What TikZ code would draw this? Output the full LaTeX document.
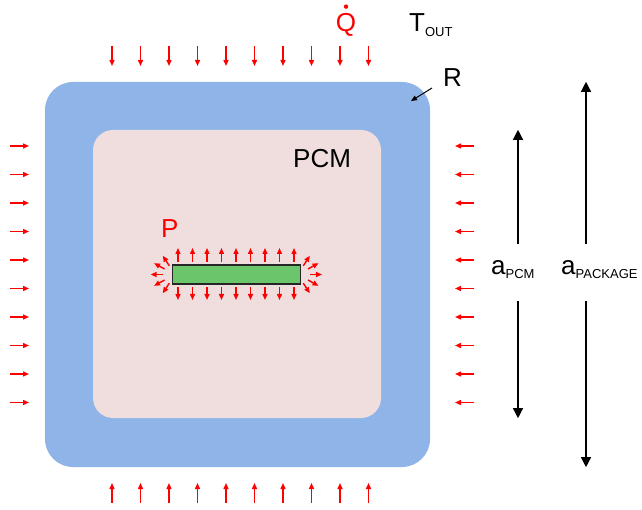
\documentclass[tikz,border=0pt]{standalone}
\usepackage{fontspec}
\setmainfont{Liberation Sans}
\usetikzlibrary{arrows.meta,positioning,calc}

\definecolor{pkgblue}{RGB}{143,180,232}
\definecolor{pcmpink}{RGB}{240,222,222}
\definecolor{heatgreen}{RGB}{107,198,107}

\newcommand{\bigfont}{\fontsize{26}{30}\selectfont}
\newcommand{\subfont}{\fontsize{13}{15}\selectfont}

\begin{document}
\begin{tikzpicture}[
    x=1pt, y=-1pt,
    >={Triangle[length=10pt,width=10pt]},
    package/.style={
        rectangle, fill=pkgblue, rounded corners=28pt,
        minimum width=385pt, minimum height=385pt
    },
    pcmbox/.style={
        rectangle, fill=pcmpink, rounded corners=20pt,
        minimum width=288pt, minimum height=288pt
    },
    heater/.style={
        rectangle, draw=black!85, line width=1.3pt, fill=heatgreen,
        minimum width=128pt, minimum height=19pt, inner sep=0pt
    },
    lbl/.style={inner sep=0pt, font=\bigfont},
    flux/.style={-{Triangle[length=6pt,width=5pt]}, red, line width=1.4pt},
    dim/.style={->, black, line width=1.3pt}
]
    \useasboundingbox (0,0) rectangle (642,510);

    \node[package] (pkg) at (237.5,274.5) {};
    \node[pcmbox] (pcm) at (237,274) {};
    \node[heater] (heat) at (236.3,274.5) {};

    % labels
    \node[lbl, text=red, anchor=base] (qdot) at (346,32) {Q};
    \fill[red] ([yshift=7pt]qdot.north) circle (2.2pt);
    \node[lbl, anchor=base west] (tout) at (409,32) {T\raisebox{-5pt}{\subfont OUT}};
    \node[lbl, anchor=base west] (res) at (443,87) {R};
    \node[lbl, anchor=base west] (pcmlbl) at (293,168) {PCM};
    \node[lbl, text=red, anchor=base west] (pwr) at (161,238) {P};
    \node[lbl, anchor=base west] (apcm) at (491,275) {a\raisebox{-4pt}{\subfont PCM}};
    \node[lbl, anchor=base west] (apkg) at (561,275) {a\raisebox{-4pt}{\subfont PACKAGE}};

    % outside heat flux
    \foreach \i in {0,...,9} {
        \draw[flux] ({112+28.5*\i},46) -- ++(0,20);
        \draw[flux] ({112+28.5*\i},503) -- ++(0,-20);
        \draw[flux] (10,{146+28.5*\i}) -- ++(19,0);
        \draw[flux] (474,{146+28.5*\i}) -- ++(-19,0);
    }

    % heater power
    \foreach \i in {0,...,8} {
        \draw[flux] ({178+14.5*\i},262) -- ++(0,-14);
        \draw[flux] ({178+14.5*\i},287) -- ++(0,13);
    }
    \foreach \t/\d in {-75/-57, -38/-29, 0/0, 38/29, 75/57} {
        \draw[flux] ([shift={(\t:9)}]heat.east) -- ++(\d:12);
        \draw[flux] ([shift={(180-\t:9)}]heat.west) -- ++(180-\d:12);
    }

    % resistance pointer
    \coordinate (rtip) at (411,101);
    \draw[-{Triangle[length=6pt,width=5pt]}, black, line width=1pt] (432,88) -- (rtip);

    % dimensions
    \coordinate (pcmtop) at (518,0 |- pcm.north);
    \coordinate (pcmbot) at (518,0 |- pcm.south);
    \coordinate (pkgtop) at (586,0 |- pkg.north);
    \coordinate (pkgbot) at (586,0 |- pkg.south);
    \draw[dim] (518,244) -- (pcmtop);
    \draw[dim] (518,301) -- (pcmbot);
    \draw[dim] (586,244) -- (pkgtop);
    \draw[dim] (586,301) -- (pkgbot);
\end{tikzpicture}
\end{document}
